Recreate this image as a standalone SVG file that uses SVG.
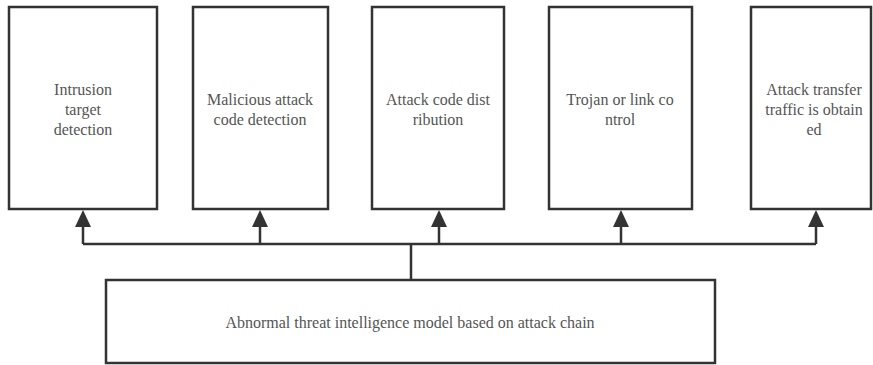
<svg xmlns="http://www.w3.org/2000/svg" width="873" height="365" viewBox="0 0 873 365">
<style>
.box{fill:#fff;stroke:#333;stroke-width:2.5}
.lbl{font-family:'Liberation Serif','Times New Roman',Times,'Noto Serif','DejaVu Serif',serif;font-size:16px;fill:#555;text-anchor:middle}
.con{fill:none;stroke:#333;stroke-width:2.5}
</style>
<rect width="873" height="365" fill="#fff"/>
<g id="connectors">
<path class="con" d="M411 280 V244"/>
<path class="con" d="M83 244 H816"/>
<path class="con" d="M83 244 V227"/>
<path class="con" d="M260 244 V227"/>
<path class="con" d="M439 244 V227"/>
<path class="con" d="M621 244 V227"/>
<path class="con" d="M816 244 V227"/>
<path d="M83 210 L91 227 L75 227 Z" fill="#333"/>
<path d="M260 210 L268 227 L252 227 Z" fill="#333"/>
<path d="M439 210 L447 227 L431 227 Z" fill="#333"/>
<path d="M621 210 L629 227 L613 227 Z" fill="#333"/>
<path d="M816 210 L824 227 L808 227 Z" fill="#333"/>
</g>
<g id="n1">
<rect class="box" x="9" y="7" width="148" height="202"/>
<text class="lbl" x="83" y="95">Intrusion</text>
<text class="lbl" x="83" y="115">target</text>
<text class="lbl" x="83" y="135">detection</text>
</g>
<g id="n2">
<rect class="box" x="193" y="7" width="135" height="202"/>
<text class="lbl" x="260" y="105">Malicious attack</text>
<text class="lbl" x="260" y="125">code detection</text>
</g>
<g id="n3">
<rect class="box" x="372" y="7" width="132" height="202"/>
<text class="lbl" x="438" y="105">Attack code dist</text>
<text class="lbl" x="438" y="125">ribution</text>
</g>
<g id="n4">
<rect class="box" x="549" y="7" width="143" height="202"/>
<text class="lbl" x="620" y="105">Trojan or link co</text>
<text class="lbl" x="620" y="125">ntrol</text>
</g>
<g id="n5">
<rect class="box" x="751" y="7" width="120" height="202"/>
<text class="lbl" x="814" y="95">Attack transfer</text>
<text class="lbl" x="814" y="115">traffic is obtain</text>
<text class="lbl" x="814" y="135">ed</text>
</g>
<g id="n6">
<rect class="box" x="106" y="280" width="609" height="83"/>
<text class="lbl" x="410" y="328">Abnormal threat intelligence model based on attack chain</text>
</g>
</svg>
